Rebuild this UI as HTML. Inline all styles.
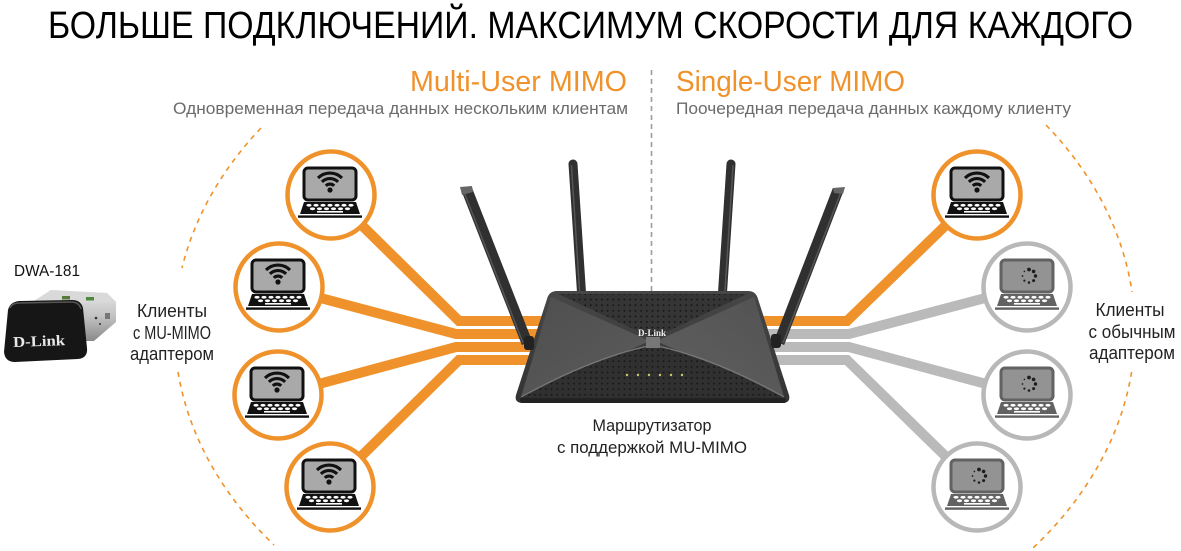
<!DOCTYPE html>
<html><head><meta charset="utf-8"><style>
html,body{margin:0;padding:0;background:#fff;}
svg{display:block;}
text{font-family:"Liberation Sans","Noto Sans CJK SC",sans-serif;}
</style></head><body>
<svg width="1181" height="551" viewBox="0 0 1181 551" xmlns="http://www.w3.org/2000/svg">
<defs>
  <pattern id="dots" x="0" y="0" width="5.6" height="5.6" patternUnits="userSpaceOnUse">
    <circle cx="2.8" cy="2.8" r="0.95" fill="#151515"/>
  </pattern>
  <linearGradient id="bodyG" x1="0" y1="0" x2="0" y2="1">
    <stop offset="0" stop-color="#474747"/><stop offset="1" stop-color="#333"/>
  </linearGradient>
  <linearGradient id="facL" x1="0" y1="0" x2="1" y2="1">
    <stop offset="0" stop-color="#4e4e4e"/><stop offset="1" stop-color="#5c5c5c"/>
  </linearGradient>
  <linearGradient id="facR" x1="1" y1="0" x2="0" y2="1">
    <stop offset="0" stop-color="#525252"/><stop offset="1" stop-color="#606060"/>
  </linearGradient>
  <linearGradient id="silver" x1="0" y1="0" x2="0" y2="1">
    <stop offset="0" stop-color="#e6e6e6"/><stop offset="0.5" stop-color="#c4c4c4"/><stop offset="1" stop-color="#8a8a8a"/>
  </linearGradient>
  <g id="lapO">
    <rect x="-26" y="-27" width="52" height="32" rx="4" fill="#a9a9a9" stroke="#111" stroke-width="3"/>
    <circle cx="0" cy="-5" r="2.6" fill="#111"/>
    <path d="M-4.2,-9.2 A6 6 0 0 1 4.2,-9.2" fill="none" stroke="#111" stroke-width="3.1"/>
    <path d="M-8.1,-13.1 A11.5 11.5 0 0 1 8.1,-13.1" fill="none" stroke="#111" stroke-width="3.1"/>
    <path d="M-12,-17 A17 17 0 0 1 12,-17" fill="none" stroke="#111" stroke-width="3.1"/>
    <path d="M-26,7 L26,7 L30,19 L-30,19 Z" fill="#111"/>
    <g fill="#fff">
      <ellipse cx="-21" cy="10.3" rx="2.6" ry="1.4"/><ellipse cx="-14" cy="10.3" rx="2.6" ry="1.4"/><ellipse cx="-7" cy="10.3" rx="2.6" ry="1.4"/><ellipse cx="0" cy="10.3" rx="2.6" ry="1.4"/><ellipse cx="7" cy="10.3" rx="2.6" ry="1.4"/><ellipse cx="14" cy="10.3" rx="2.6" ry="1.4"/><ellipse cx="21" cy="10.3" rx="2.6" ry="1.4"/>
      <ellipse cx="-17.5" cy="13.8" rx="2.6" ry="1.4"/><ellipse cx="-10.5" cy="13.8" rx="2.6" ry="1.4"/><ellipse cx="-3.5" cy="13.8" rx="2.6" ry="1.4"/><ellipse cx="3.5" cy="13.8" rx="2.6" ry="1.4"/><ellipse cx="10.5" cy="13.8" rx="2.6" ry="1.4"/><ellipse cx="17.5" cy="13.8" rx="2.6" ry="1.4"/>
      <rect x="-13" y="16" width="26" height="1.6"/>
    </g>
    <rect x="-32" y="20.4" width="64" height="2.4" fill="#111"/>
  </g>
  <g id="lapG">
    <rect x="-26" y="-27" width="52" height="32" rx="4" fill="#939393" stroke="#626262" stroke-width="3"/>
    <g fill="#1e1e1e">
      <circle cx="2" cy="-17.5" r="1.9"/>
      <circle cx="6.6" cy="-15.6" r="1.8"/>
      <circle cx="8.5" cy="-11" r="1.7"/>
      <circle cx="6.6" cy="-6.4" r="1.5"/>
      <circle cx="2" cy="-4.5" r="1.3"/>
      <circle cx="-2.6" cy="-6.4" r="1.1"/>
      <circle cx="-4.5" cy="-11" r="0.9"/>
      <circle cx="-2.6" cy="-15.6" r="0.8"/>
    </g>
    <path d="M-26,7 L26,7 L30,19 L-30,19 Z" fill="#626262"/>
    <g fill="#fff">
      <ellipse cx="-21" cy="10.3" rx="2.6" ry="1.4"/><ellipse cx="-14" cy="10.3" rx="2.6" ry="1.4"/><ellipse cx="-7" cy="10.3" rx="2.6" ry="1.4"/><ellipse cx="0" cy="10.3" rx="2.6" ry="1.4"/><ellipse cx="7" cy="10.3" rx="2.6" ry="1.4"/><ellipse cx="14" cy="10.3" rx="2.6" ry="1.4"/><ellipse cx="21" cy="10.3" rx="2.6" ry="1.4"/>
      <ellipse cx="-17.5" cy="13.8" rx="2.6" ry="1.4"/><ellipse cx="-10.5" cy="13.8" rx="2.6" ry="1.4"/><ellipse cx="-3.5" cy="13.8" rx="2.6" ry="1.4"/><ellipse cx="3.5" cy="13.8" rx="2.6" ry="1.4"/><ellipse cx="10.5" cy="13.8" rx="2.6" ry="1.4"/><ellipse cx="17.5" cy="13.8" rx="2.6" ry="1.4"/>
      <rect x="-13" y="16" width="26" height="1.6"/>
    </g>
    <rect x="-32" y="20.4" width="64" height="2.4" fill="#626262"/>
  </g>
</defs>

<!-- Title -->
<text x="48" y="38" font-size="38" fill="#000" textLength="1085" lengthAdjust="spacingAndGlyphs">БОЛЬШЕ ПОДКЛЮЧЕНИЙ. МАКСИМУМ СКОРОСТИ ДЛЯ КАЖДОГО</text>

<!-- Headings -->
<text x="410" y="91" font-size="29" fill="#f0922b" textLength="217" lengthAdjust="spacingAndGlyphs">Multi-User MIMO</text>
<text x="676" y="91" font-size="29" fill="#f0922b" textLength="229" lengthAdjust="spacingAndGlyphs">Single-User MIMO</text>
<text x="173" y="114" font-size="16.5" fill="#6b6b6b" textLength="455" lengthAdjust="spacingAndGlyphs">Одновременная передача данных нескольким клиентам</text>
<text x="676" y="114" font-size="16.5" fill="#6b6b6b" textLength="395" lengthAdjust="spacingAndGlyphs">Поочередная передача данных каждому клиенту</text>

<!-- vertical dashed divider -->
<line x1="651.5" y1="70" x2="651.5" y2="292" stroke="#9c9c9c" stroke-width="1.6" stroke-dasharray="5 4"/>

<!-- dashed ellipse arcs -->
<g fill="none" stroke="#f0922b" stroke-width="1.6" stroke-dasharray="5 5">
  <path d="M261,128 A480 354 0 0 0 182,268"/>
  <path d="M178,372 A480 354 0 0 0 274,545"/>
  <path d="M1046,125 A480 354 0 0 1 1132,292"/>
  <path d="M1131.6,372 A480 354 0 0 1 1033,548"/>
</g>

<!-- connector bands -->
<g fill="none" stroke-width="10" stroke-linejoin="miter">
  <polyline points="331,195 459,321 652,321" stroke="#f0922b"/>
  <polyline points="279,287 456,334 652,334" stroke="#f0922b"/>
  <polyline points="278,395 456,347 652,347" stroke="#f0922b"/>
  <polyline points="330,487 459,360 652,360" stroke="#f0922b"/>
  <polyline points="977,195 847,321 652,321" stroke="#f0922b"/>
  <polyline points="1027,287 849,334 652,334" stroke="#bababa"/>
  <polyline points="1027,395 849,347 652,347" stroke="#bababa"/>
  <polyline points="977,487 847,360 652,360" stroke="#bababa"/>
</g>

<!-- client circles -->
<g fill="#fff" stroke-width="4.5">
  <circle cx="331" cy="195" r="43.5" stroke="#f0922b"/>
  <circle cx="279" cy="287" r="43.5" stroke="#f0922b"/>
  <circle cx="278" cy="395" r="43.5" stroke="#f0922b"/>
  <circle cx="330" cy="487" r="43.5" stroke="#f0922b"/>
  <circle cx="977" cy="195" r="43.5" stroke="#f0922b"/>
  <circle cx="1027" cy="287" r="43.5" stroke="#b8b8b8"/>
  <circle cx="1027" cy="395" r="43.5" stroke="#b8b8b8"/>
  <circle cx="977" cy="487" r="43.5" stroke="#b8b8b8"/>
</g>
<use href="#lapO" x="330" y="195"/>
<use href="#lapO" x="278" y="287"/>
<use href="#lapO" x="277" y="395"/>
<use href="#lapO" x="329" y="487"/>
<use href="#lapO" x="977" y="195"/>
<use href="#lapG" x="1027" y="287"/>
<use href="#lapG" x="1027" y="395"/>
<use href="#lapG" x="977" y="487"/>

<!-- inner antennas (behind body) -->
<g stroke-linecap="round">
  <line x1="573" y1="164" x2="582" y2="300" stroke="#303030" stroke-width="9"/>
  <line x1="571.5" y1="166" x2="580" y2="298" stroke="#555" stroke-width="1.5"/>
  <line x1="731" y1="164" x2="722" y2="300" stroke="#303030" stroke-width="9"/>
  <line x1="733" y1="166" x2="724.5" y2="298" stroke="#555" stroke-width="1.5"/>
</g>

<!-- router body -->
<path d="M557,291 L748,291 Q756,291 758,299 L789,395 Q791,403 782,403 L523,403 Q514,403 516,395 L547,299 Q549,291 557,291 Z" fill="url(#bodyG)"/>
<polygon points="558,294 747,294 653,338" fill="#353535"/>
<polygon points="558,294 747,294 653,338" fill="url(#dots)"/>
<polygon points="551,297 650,341 521,397" fill="url(#facL)"/>
<polygon points="754,297 656,341 784,397" fill="url(#facR)"/>
<path d="M521,398 Q590,360 648,347 L658,347 Q716,360 784,398 Z" fill="#303030"/>
<path d="M521,398 Q590,360 648,347 L658,347 Q716,360 784,398 Z" fill="url(#dots)"/>
<path d="M521,397 Q590,359 648,346" fill="none" stroke="#777" stroke-width="1.2"/>
<path d="M784,397 Q716,359 658,346" fill="none" stroke="#777" stroke-width="1.2"/>
<rect x="520" y="398" width="266" height="5" rx="2" fill="#222"/>
<rect x="646" y="337" width="14" height="11" fill="#777"/>
<text x="652" y="336" font-size="9" font-weight="bold" fill="#f2f2f2" text-anchor="middle" style="font-family:'Liberation Serif',serif">D-Link</text>
<g fill="#c9c86a">
  <circle cx="627" cy="375" r="1.2"/><circle cx="638" cy="375" r="1.2"/><circle cx="649" cy="375" r="1.2"/><circle cx="660" cy="375" r="1.2"/><circle cx="671" cy="375" r="1.2"/><circle cx="682" cy="375" r="1.2"/>
</g>

<!-- outer antennas -->
<g>
  <line x1="467" y1="190" x2="527" y2="343" stroke="#303030" stroke-width="11"/>
  <line x1="464" y1="192" x2="523" y2="343" stroke="#555" stroke-width="1.5"/>
  <polygon points="460,187 472,186 473,192 462,195" fill="#666"/>
  <rect x="524" y="336" width="10" height="14" rx="3" fill="#222"/>
  <line x1="838" y1="190" x2="779" y2="343" stroke="#303030" stroke-width="11"/>
  <line x1="841" y1="192" x2="783" y2="343" stroke="#555" stroke-width="1.5"/>
  <polygon points="833,188 845,187 843,194 834,193" fill="#666"/>
  <rect x="771" y="334" width="10" height="14" rx="3" fill="#222"/>
</g>

<!-- router caption -->
<text x="652" y="431" font-size="17" fill="#222" text-anchor="middle" textLength="119" lengthAdjust="spacingAndGlyphs">Маршрутизатор</text>
<text x="652" y="453" font-size="17" fill="#222" text-anchor="middle" textLength="190" lengthAdjust="spacingAndGlyphs">с поддержкой MU-MIMO</text>

<!-- side labels -->
<g font-size="18" fill="#222" text-anchor="middle">
  <text x="172" y="317" textLength="70" lengthAdjust="spacingAndGlyphs">Клиенты</text>
  <text x="172" y="339" textLength="78" lengthAdjust="spacingAndGlyphs">с MU-MIMO</text>
  <text x="172" y="360" textLength="84" lengthAdjust="spacingAndGlyphs">адаптером</text>
  <text x="1130" y="316" textLength="69" lengthAdjust="spacingAndGlyphs">Клиенты</text>
  <text x="1132" y="338" textLength="87" lengthAdjust="spacingAndGlyphs">с обычным</text>
  <text x="1132" y="359" textLength="86" lengthAdjust="spacingAndGlyphs">адаптером</text>
</g>

<!-- DWA-181 -->
<text x="14" y="276" font-size="16" fill="#111" textLength="66" lengthAdjust="spacingAndGlyphs">DWA-181</text>
<g>
  <polygon points="34,301 51,290 107,293 116,302 116,322 94,341 48,341" fill="url(#silver)"/>
  <polygon points="34,301 51,290 107,293 116,302 60,304" fill="#d9d9d9"/>
  <rect x="62" y="296" width="8" height="3.5" fill="#5a7a3a"/>
  <rect x="86" y="297" width="8" height="3.5" fill="#4a8a3a"/>
  <circle cx="96" cy="318" r="1.3" fill="#333"/>
  <circle cx="100" cy="324" r="1" fill="#333"/>
  <rect x="105" y="313" width="5" height="6" fill="#777"/>
  <path d="M8,310 Q10,302 19,301 L72,300 Q81,300 83,308 L87,348 Q88,358 78,359 L15,362 Q5,362 4,352 Z" fill="#161616"/>
  <path d="M10,308 Q12,303 20,303 L71,302 Q79,302 81,309" fill="none" stroke="#555" stroke-width="1.5"/>
  <text x="13" y="346" font-size="15" font-weight="bold" fill="#e8e8e8" textLength="52" lengthAdjust="spacingAndGlyphs" style="font-family:'Liberation Serif',serif" transform="rotate(-2 40 340)">D-Link</text>
</g>
</svg>
</body></html>
